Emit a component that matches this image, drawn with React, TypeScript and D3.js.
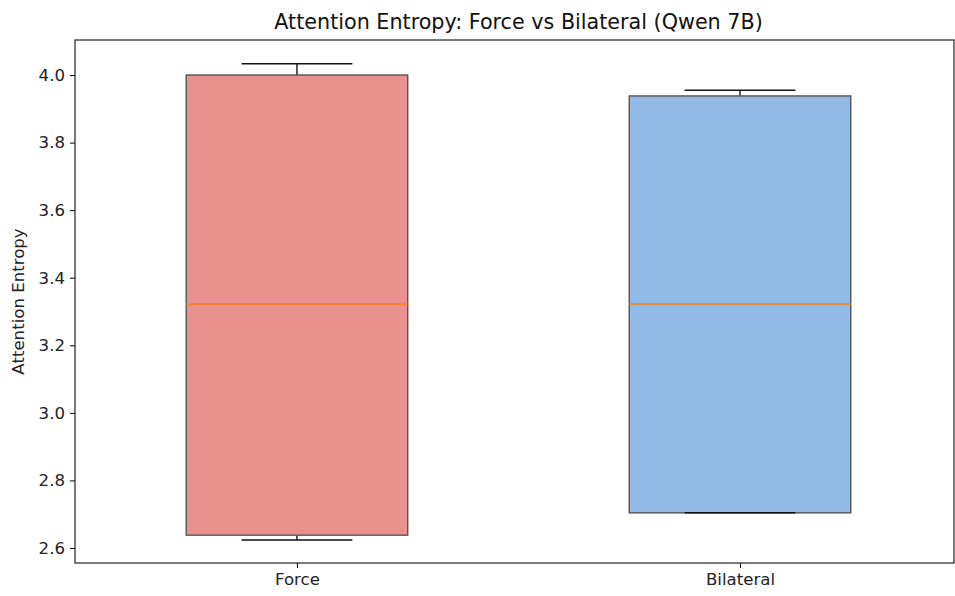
import { useRef, useEffect } from 'react'
import * as d3 from 'd3'

const width = 955
const height = 596
const margin = { top: 40, right: 1, bottom: 33, left: 75 }
const innerWidth = width - margin.left - margin.right
const innerHeight = height - margin.top - margin.bottom

const categories = ['Force', 'Bilateral']
const whiskerLow = [2.624, 2.704]
const q1 = [2.638, 2.704]
const medians = [3.322, 3.322]
const q3 = [4.0, 3.938]
const whiskerHigh = [4.033, 3.955]
const fills = ['#e8918f', '#91bae6']
const yTicks = [2.6, 2.8, 3.0, 3.2, 3.4, 3.6, 3.8, 4.0]

const font = 'DejaVu Sans, sans-serif'

const App = () => {
  const svgRef = useRef<SVGSVGElement>(null)

  useEffect(() => {
    const svg = d3.select(svgRef.current)
    svg.selectAll('*').remove()

    const x = d3.scaleLinear().domain([0.499, 2.483]).range([0, innerWidth])
    const y = d3.scaleLinear().domain([2.5556, 4.1036]).range([innerHeight, 0])

    const g = svg.append('g').attr('transform', `translate(${margin.left},${margin.top})`)

    const boxW = x(1.25) - x(1)
    const capW = x(1.125) - x(1)

    categories.forEach((c, i) => {
      const cx = x(i + 1)
      // whiskers
      g.append('line').attr('x1', cx).attr('x2', cx).attr('y1', y(q3[i])).attr('y2', y(whiskerHigh[i]))
        .attr('stroke', '#000').attr('stroke-width', 1.3)
      g.append('line').attr('x1', cx).attr('x2', cx).attr('y1', y(q1[i])).attr('y2', y(whiskerLow[i]))
        .attr('stroke', '#000').attr('stroke-width', 1.3)
      g.append('rect')
        .attr('x', cx - boxW)
        .attr('y', y(q3[i]))
        .attr('width', boxW * 2)
        .attr('height', y(q1[i]) - y(q3[i]))
        .attr('fill', fills[i])
        .attr('stroke', '#555')
        .attr('stroke-width', 1.4)
      g.append('line').attr('x1', cx - capW).attr('x2', cx + capW).attr('y1', y(whiskerHigh[i])).attr('y2', y(whiskerHigh[i]))
        .attr('stroke', '#111').attr('stroke-width', 1.5)
      g.append('line').attr('x1', cx - capW).attr('x2', cx + capW).attr('y1', y(whiskerLow[i])).attr('y2', y(whiskerLow[i]))
        .attr('stroke', '#111').attr('stroke-width', 1.5)
      g.append('line').attr('x1', cx - boxW).attr('x2', cx + boxW).attr('y1', y(medians[i])).attr('y2', y(medians[i]))
        .attr('stroke', '#ff7f0e').attr('stroke-width', 1.5)
    })

    const yAxis = d3.axisLeft(y).tickValues(yTicks).tickFormat(d3.format('.1f')).tickSizeOuter(0).tickSize(5).tickPadding(5)
    const yG = g.append('g').call(yAxis)
    yG.select('.domain').remove()
    yG.selectAll('text').attr('font-size', 16.6).attr('font-family', font).attr('fill', '#222')

    const xAxis = d3.axisBottom(x).tickValues([1, 2]).tickFormat((d) => categories[+d - 1]).tickSizeOuter(0).tickSize(5).tickPadding(5)
    const xG = g.append('g').attr('transform', `translate(0,${innerHeight})`).call(xAxis)
    xG.select('.domain').remove()
    xG.selectAll('text').attr('font-size', 16.6).attr('font-family', font).attr('fill', '#222')

    g.append('rect').attr('width', innerWidth).attr('height', innerHeight)
      .attr('fill', 'none').attr('stroke', '#222').attr('stroke-width', 1.2)

    svg.append('text')
      .attr('x', margin.left + innerWidth / 2 + 4)
      .attr('y', 29)
      .attr('text-anchor', 'middle')
      .attr('font-size', 20.7)
      .attr('font-family', font)
      .attr('fill', '#111')
      .text('Attention Entropy: Force vs Bilateral (Qwen 7B)')

    svg.append('text')
      .attr('transform', `translate(24,${margin.top + innerHeight / 2}) rotate(-90)`)
      .attr('text-anchor', 'middle')
      .attr('font-size', 16.6)
      .attr('font-family', font)
      .attr('fill', '#222')
      .text('Attention Entropy')
  }, [])

  return (
    <svg ref={svgRef} width={width} height={height}
      style={{ position: 'absolute', left: 0, top: 0, background: '#fff' }} />
  )
}

export default App
